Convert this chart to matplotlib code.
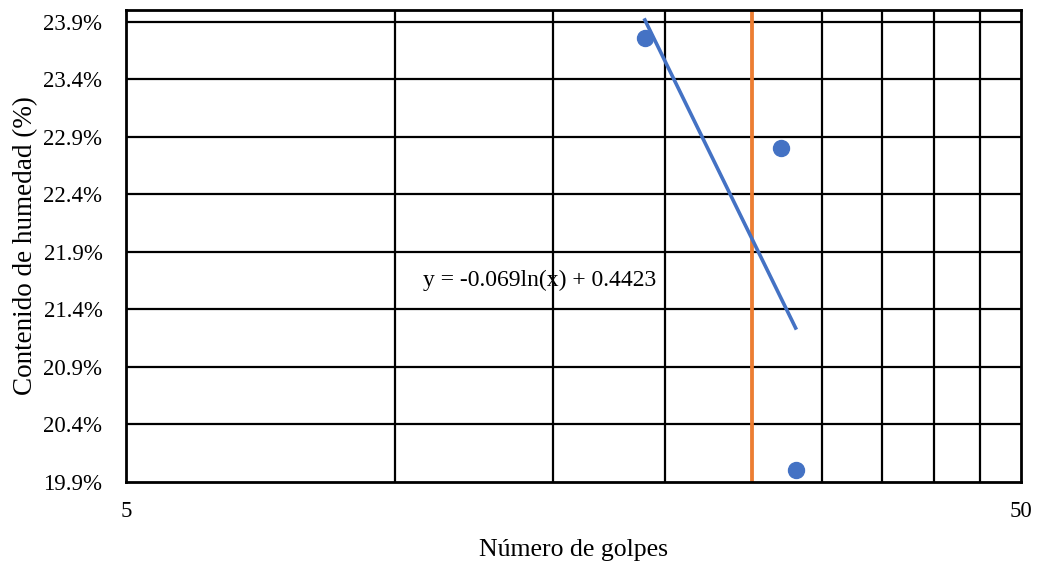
import numpy as np
import matplotlib.pyplot as plt
from matplotlib.ticker import FuncFormatter, FixedLocator, NullLocator

# datos de ensayo (Límite líquido)
golpes = [19, 27, 28]
humedad = [0.2376, 0.2280, 0.2000]
pendiente = -0.069
intercepto = 0.4423
golpes_ref = 25
etiqueta = "y = -0.069ln(x) + 0.4423"

y_ticks = [0.199, 0.204, 0.209, 0.214, 0.219, 0.224, 0.229, 0.234, 0.239]
x_grid = [10, 15, 20, 25, 30, 35, 40, 45]

plt.rcParams['font.family'] = ['Liberation Serif', 'DejaVu Serif']

fig = plt.figure(figsize=(10.4, 5.63), dpi=100)
ax = fig.add_axes([0.1212, 0.1439, 0.8605, 0.8383])

ax.set_xscale('log')
ax.set_xlim(5, 50)
ax.set_ylim(0.199, 0.24)

# cuadrícula
for xv in x_grid:
    ax.axvline(xv, color='black', lw=1.6, zorder=1)
for yv in y_ticks[1:]:
    ax.axhline(yv, color='black', lw=1.6, zorder=1)

# línea de referencia a 25 golpes
ax.axvline(golpes_ref, color='#ED7D31', lw=2.7, zorder=2)

# datos y tendencia logarítmica
ax.plot(golpes, humedad, 'o', color='#4472C4', ms=11.5, zorder=3)
xt = np.array([min(golpes), max(golpes)])
ax.plot(xt, pendiente * np.log(xt) + intercepto, color='#4472C4', lw=2.6, zorder=3)
ax.text(14.5, 0.2165, etiqueta, fontsize=17, ha='center', va='center', zorder=4)

ax.xaxis.set_major_locator(FixedLocator([5, 50]))
ax.xaxis.set_minor_locator(NullLocator())
ax.xaxis.set_major_formatter(FuncFormatter(lambda v, p: f"{v:g}"))
ax.yaxis.set_major_locator(FixedLocator(y_ticks))
ax.yaxis.set_major_formatter(FuncFormatter(lambda v, p: f"{v*100:.1f}%"))
ax.tick_params(length=0, labelsize=16.5, pad=17)
ax.tick_params(axis='x', pad=14)

for s in ax.spines.values():
    s.set_linewidth(2)
    s.set_color('black')

ax.set_xlabel("Número de golpes", fontsize=18.5, labelpad=12)
ax.set_ylabel("Contenido de humedad (%)", fontsize=19.5, labelpad=4)

fig.savefig('out.png', dpi=100)
